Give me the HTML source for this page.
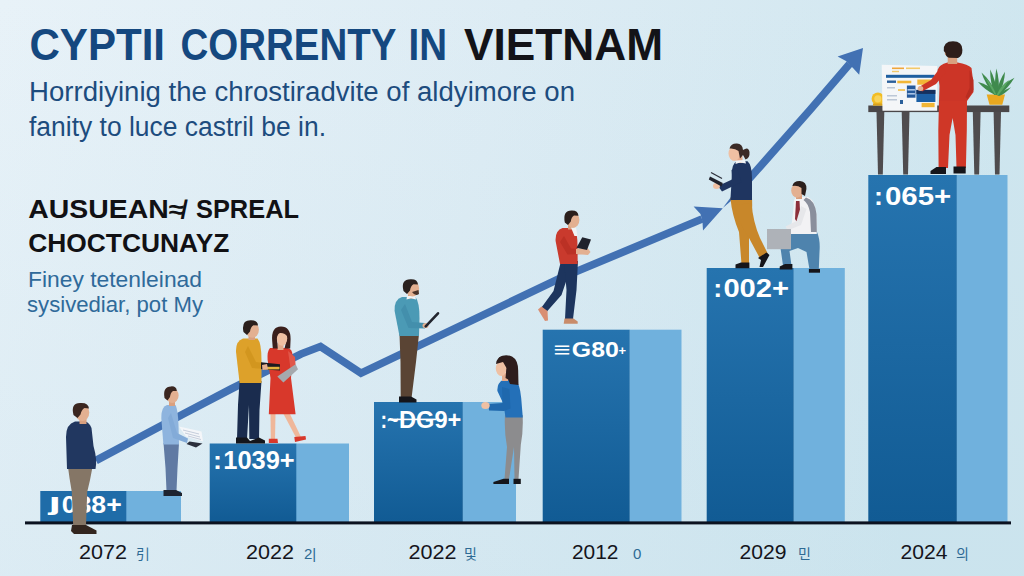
<!DOCTYPE html>
<html lang="en">
<head>
<meta charset="utf-8">
<title>Cryptocurrency in Vietnam</title>
<style>
html,body{margin:0;padding:0;background:#dfecf4;}
body{width:1024px;height:576px;overflow:hidden;font-family:"Liberation Sans","Noto Sans CJK KR",sans-serif;}
svg{display:block;}
text{font-family:"Liberation Sans","Noto Sans CJK KR",sans-serif;}
.b{font-weight:700;}
</style>
</head>
<body>
<svg width="1024" height="576" viewBox="0 0 1024 576">
<defs>
<linearGradient id="bg" x1="0" y1="0" x2="1" y2="0.15">
<stop offset="0" stop-color="#e8f2f8"/><stop offset="0.5" stop-color="#ddecf4"/><stop offset="1" stop-color="#cfe6ef"/>
</linearGradient>
<linearGradient id="dk" x1="0" y1="0" x2="0" y2="1">
<stop offset="0" stop-color="#2674af"/><stop offset="1" stop-color="#115b94"/>
</linearGradient>
<linearGradient id="dk2" x1="0" y1="0" x2="1" y2="0">
<stop offset="0" stop-color="#0a3f78" stop-opacity="0.35"/><stop offset="1" stop-color="#0a3f78" stop-opacity="0"/>
</linearGradient>
<linearGradient id="bgv" x1="0" y1="0" x2="0" y2="1"><stop offset="0" stop-color="#bcdbe8" stop-opacity="0"/><stop offset="1" stop-color="#bcdbe8" stop-opacity="0.22"/></linearGradient>
</defs>
<rect width="1024" height="576" fill="url(#bg)"/>
<rect width="1024" height="576" fill="url(#bgv)"/>

<!-- BARS -->
<g id="bars">
<rect x="126" y="491" width="55" height="31" fill="#70b1dd"/>
<rect x="40.3" y="491" width="86" height="31" fill="#1f6ca8"/>
<rect x="296" y="443.5" width="53" height="78.5" fill="#70b1dd"/>
<rect x="209.7" y="443.5" width="86.6" height="78.5" fill="url(#dk)"/>
<rect x="462.5" y="402" width="53.5" height="120" fill="#70b1dd"/>
<rect x="374" y="402" width="88.8" height="120" fill="url(#dk)"/>
<rect x="629.5" y="329.7" width="52" height="192.3" fill="#70b1dd"/>
<rect x="542.7" y="329.7" width="87" height="192.3" fill="url(#dk)"/>
<rect x="793.5" y="268" width="51.3" height="254" fill="#70b1dd"/>
<rect x="706.7" y="268" width="87" height="254" fill="url(#dk)"/>
<rect x="956.5" y="175" width="51" height="347" fill="#70b1dd"/>
<rect x="868.3" y="175" width="88.5" height="347" fill="url(#dk)"/>
</g>
<rect x="25" y="521.4" width="986" height="3" fill="#0b1220"/>

<!-- TREND LINE -->
<g id="trend" fill="none" stroke="#4271b3" stroke-width="7.7" stroke-linejoin="miter">
<polyline points="96,460.5 184,413.6 231,389 301,354 320.5,346.5 361,373.2 559,278.8 702,219"/>
<polyline points="741,188 757,170 810,110 849.5,64"/>
</g>
<polygon points="722.8,208 741,183.5 746,188 " fill="#4271b3"/>
<polygon points="722.8,208.2 693.6,206.4 700.5,214 702.5,222 703,230.4" fill="#4271b3"/>
<polygon points="863,48 837.6,56.4 846,61 853,68 859.2,74.7" fill="#4271b3"/>

<!-- TEXT -->
<g id="copy">
<g class="b" font-size="44">
<text x="29.5" y="59.8" fill="#15487f" textLength="135.5" lengthAdjust="spacingAndGlyphs">CYPTII</text>
<text x="180.5" y="59.8" fill="#15487f" textLength="216" lengthAdjust="spacingAndGlyphs">CORRENTY</text>
<text x="408.5" y="59.8" fill="#15487f" textLength="38.5" lengthAdjust="spacingAndGlyphs">IN</text>
<text x="464" y="59.8" fill="#131318" textLength="199" lengthAdjust="spacingAndGlyphs">VIETNAM</text>
</g>
<text x="29" y="100.7" font-size="26.8" fill="#1d4c7e" textLength="546" lengthAdjust="spacingAndGlyphs">Horrdiyinig the chrostiradvite of aldyimore on</text>
<text x="29" y="136.2" font-size="26.8" fill="#1d4c7e" textLength="297" lengthAdjust="spacingAndGlyphs">fanity to luce castril be in.</text>
<text x="28.3" y="218.2" font-size="25" class="b" fill="#111114" textLength="156" lengthAdjust="spacingAndGlyphs">AUSUEAN≉</text>
<text x="196" y="218.2" font-size="25" class="b" fill="#111114" textLength="103" lengthAdjust="spacingAndGlyphs">SPREAL</text>
<text x="28.3" y="251.7" font-size="25" class="b" fill="#111114" textLength="201" lengthAdjust="spacingAndGlyphs">CHOCTCUNAYZ</text>
<text x="28" y="287.3" font-size="21.5" fill="#2f6a9a" textLength="174" lengthAdjust="spacingAndGlyphs">Finey tetenleinad</text>
<text x="27" y="312" font-size="21.5" fill="#2f6a9a" textLength="176" lengthAdjust="spacingAndGlyphs">sysivediar, pot My</text>
</g>

<!-- BAR LABELS -->
<g id="labels" class="b" fill="#ffffff">
<text x="48.5" y="509.5" font-size="23" textLength="12.5" lengthAdjust="spacingAndGlyphs">ȷ</text>
<text x="61.7" y="513.4" font-size="24.5" textLength="60" lengthAdjust="spacingAndGlyphs">088+</text>
<text x="213" y="469.4" font-size="25.5" textLength="9" lengthAdjust="spacingAndGlyphs">:</text>
<text x="223.3" y="469.4" font-size="25.5" textLength="71.4" lengthAdjust="spacingAndGlyphs">1039+</text>
<text x="380.5" y="428.2" font-size="23.5" textLength="18" lengthAdjust="spacingAndGlyphs">:~</text>
<text x="399" y="428.2" font-size="23.5" textLength="62.3" lengthAdjust="spacingAndGlyphs">DG9+</text>
<rect x="392" y="418.6" width="44" height="1.6" fill="#ffffff"/>
<text x="553.5" y="357.2" font-size="21.5" textLength="17" lengthAdjust="spacingAndGlyphs">≡</text>
<text x="571.8" y="357.2" font-size="21.5" textLength="47" lengthAdjust="spacingAndGlyphs">G80</text>
<text x="618.5" y="354.5" font-size="13">+</text>
<text x="713.3" y="297.2" font-size="25" textLength="9" lengthAdjust="spacingAndGlyphs">:</text>
<text x="723.4" y="297.2" font-size="25" textLength="65.6" lengthAdjust="spacingAndGlyphs">002+</text>
<text x="874" y="205.2" font-size="25.5" textLength="9" lengthAdjust="spacingAndGlyphs">:</text>
<text x="885" y="205.2" font-size="25.5" textLength="66.3" lengthAdjust="spacingAndGlyphs">065+</text>
</g>

<!-- YEARS -->
<g id="years" fill="#15151c" font-size="20.5">
<text x="79" y="559.3" textLength="48" lengthAdjust="spacingAndGlyphs">2072</text>
<text x="246" y="559.3" textLength="48" lengthAdjust="spacingAndGlyphs">2022</text>
<text x="408.5" y="559.3" textLength="48" lengthAdjust="spacingAndGlyphs">2022</text>
<text x="572" y="559.3" textLength="46.5" lengthAdjust="spacingAndGlyphs">2012</text>
<text x="739.5" y="559.3" textLength="47" lengthAdjust="spacingAndGlyphs">2029</text>
<text x="900.5" y="559.3" textLength="47" lengthAdjust="spacingAndGlyphs">2024</text>
<g fill="#2d6a94" font-size="14">
<text x="136" y="559">引</text>
<text x="304" y="559" font-size="15">2|</text>
<text x="464" y="559">및</text>
<text x="633" y="559" font-size="15">0</text>
<text x="798" y="559">민</text>
<text x="956" y="559">의</text>
</g>
</g>

<!-- PEOPLE -->
<g id="p1">
<path d="M68,467 L92.5,467 L90,480 L87.2,492 L86,526 L73.2,526 L71.8,492 L69.5,478 Z" fill="#857666"/>
<path d="M72,525 L86,525 L96.5,530.5 L96.5,534 L74,534 L71,531 Z" fill="#33261f"/>
<path d="M75,421.5 Q66,424 66,437 L67,469 L95.5,469 Q97.5,460 93.5,446 L91.5,428 Q89,422 85,421.5 Z" fill="#213760"/>
<rect x="79.5" y="416" width="7" height="8" fill="#d9a07f"/>
<ellipse cx="82.3" cy="412.5" rx="7" ry="8.6" fill="#e3b091"/>
<path d="M73.5,415 Q70.5,403 80,403 Q88.5,402.3 89,408.5 L84.5,408 Q81.5,409.5 80.5,414.5 L77.5,418 Z" fill="#3a2620"/>
</g>

<g id="p2">
<path d="M163.5,443 L179,443 L177.5,468 L176.5,491 L166.5,491 L165.5,468 Z" fill="#607aa3"/>
<path d="M163.5,490 L176,490 L182,493 L182,496 L163.5,496 Z" fill="#1e2430"/>
<path d="M167,405 Q161,407 161.3,418 L163.4,444.5 L179,444.5 L178.5,425 Q178,410 175.5,405 Z" fill="#8eb4de"/>
<path d="M171,413 L177,433 L188,438.5 L187,443 L173,438 L168,418 Z" fill="#83abd8"/>
<polygon points="179,426.5 201.5,431.5 203,441.5 186,436.5" fill="#f4f6f9"/>
<path d="M183,430 L199,434 M185,433 L200,437 M188,436 L201,439.5" stroke="#b9c3d3" stroke-width="0.8" fill="none"/>
<polygon points="189.5,441.5 202.5,443.5 196,447.6 186.5,444" fill="#2a2f3c"/>
<rect x="169" y="399" width="6" height="7" fill="#d9a07f"/>
<ellipse cx="172.3" cy="395.5" rx="6.3" ry="7.5" fill="#e3b091"/>
<path d="M164.5,398 Q162.5,386.4 171,386.4 Q176.5,386 176.8,391 L173,391 Q170.5,392.5 170,397 L167.5,400.5 Z" fill="#3a2620"/>
</g>

<g id="p3">
<path d="M239.6,381 L261.5,381 L259.5,410 L259,439 L249.3,439 L249,405 L247,439 L237,439 L238,405 Z" fill="#1a2c4e"/>
<path d="M236,437.5 L247,437.5 L250,441 L259,437.5 L265,440.5 L265,443.4 L236,443.4 Z" fill="#14161c"/>
<path d="M243,338.5 Q235.5,341 236,352 L239.6,383 L261.5,383 L261.5,360 Q261.5,343 257.5,338.5 Z" fill="#dda12a"/>
<path d="M248,346 L256,362 L267,363.5 L267,369 L252,368 L245,352 Z" fill="#d2961f"/>
<rect x="248.5" y="333" width="6.5" height="7" fill="#d9a07f"/>
<ellipse cx="252.3" cy="329.8" rx="6.6" ry="8" fill="#e3b091"/>
<path d="M243.5,332 Q241,320.3 250.5,320.3 Q257.5,320 258,325.5 L253.5,325.3 Q250.5,327 250,331.5 L247,335 Z" fill="#2b1f1c"/>
</g>

<g id="p4">
<path d="M270.5,413 L275.5,413 L275,440 L270.8,440 Z" fill="#efb79a"/>
<path d="M283,413 L289.5,413 L301,437 L296.5,438.5 Z" fill="#efb79a"/>
<path d="M268.8,438.8 L277.5,438.8 L278,443 L268.8,443 Z" fill="#d8382b"/>
<path d="M294.3,437 L305.5,436 L306,439.5 L295,442 Z" fill="#d8382b"/>
<path d="M270,348 Q267,351 267.6,360 L270.5,378 L268.8,414.2 L295.6,414.2 L291,378 L292.5,356 Q292.5,349 288,348 Z" fill="#d8382b"/>
<path d="M288,351 L295,357 L296,371 L291,372 Z" fill="#e0574a"/>
<polygon points="277.3,376.5 295.6,364.3 298,369.2 283.4,382.6" fill="#a5a9ad"/>
<rect x="277.5" y="343" width="6" height="7" fill="#e3ab8e"/>
<path d="M272.2,341 Q271,326.5 281,326.5 Q290.6,326.5 290.6,339 L290.2,348.5 L284.5,348.5 L287,338 L277,338 L277.8,348.5 L272.8,348.5 Z" fill="#3a1f1c"/>
<ellipse cx="282" cy="338.5" rx="5.2" ry="7.3" fill="#efc0a3"/>
<path d="M275.5,336 Q277,328.5 284,329.5 Q288.5,330.5 288,337 Q284.5,332.5 280,333 Q277,334 276.5,340 Z" fill="#3a1f1c"/>
</g>

<g id="book"><polygon points="261,362.2 280,364.2 280,370.6 261,369.2" fill="#1b1b20"/>
<rect x="265" y="366.8" width="14.5" height="2.6" fill="#e5b53c"/>
<path d="M262,365 L267,364 L268,369.5 L262.5,370 Z" fill="#e3b091"/></g>

<g id="p5">
<path d="M399.5,334 L419,334 L416,362 L411.6,397.5 L400.7,397.5 L400.5,362 Z" fill="#5a4434"/>
<path d="M399,396.5 L411,396.5 L416.5,399.5 L416.5,402.6 L399,402.6 Z" fill="#15151a"/>
<path d="M402,297 Q394,299.5 394.6,311 L399.5,336 L419,336 L419.5,318 Q419.5,302 415.5,297 Z" fill="#4b9ab5"/>
<path d="M405,304 L412,322 L425,323 L425,328.5 L408.5,328 L401,310 Z" fill="#438fac"/>
<ellipse cx="425.5" cy="325.5" rx="3" ry="2.6" fill="#e3b091"/>
<line x1="425.7" y1="326.4" x2="438" y2="313.3" stroke="#22252e" stroke-width="2.6" stroke-linecap="round"/>
<rect x="408" y="291" width="6.5" height="7.5" fill="#d9a07f"/>
<path d="M407,296 L415.5,296 L416,299.5 L411,298.3 L406.5,299.5 Z" fill="#f1f3f5"/>
<ellipse cx="412.5" cy="288.5" rx="6.6" ry="8" fill="#e3b091"/>
<path d="M412,292 Q415,296.5 419,294 L418.5,290 Z" fill="#4a3329"/>
<path d="M403.5,291 Q400.5,279.2 410.5,279.2 Q417.5,278.8 418,284.5 L413.5,284.3 Q410.5,286 410,290.5 L407,294 Z" fill="#2b2220"/>
</g>

<g id="p6">
<path d="M505,415 L522.6,415 Q523.5,430 520.8,445 L518.5,479 L514.5,479 L514,447 L509,479 L504.5,479 L507,447 Q504,430 505,415 Z" fill="#8c8c8e"/>
<path d="M493.4,482 L503.5,478.8 L509,478.8 L509,484 L493.4,484 Z" fill="#15151a"/>
<path d="M513.5,478.8 L520.8,478.8 L520.8,484 L513.5,484 Z" fill="#15151a"/>
<path d="M503.5,379.5 Q496.8,383 497.4,391 L503.5,404 L505.5,417.5 L522.8,417.5 L521.2,398 Q519.8,383 515,379.5 Z" fill="#2470b8"/>
<path d="M502,387 L509.5,389 L510.5,408.5 L504,411 L489,410.5 L488.5,404 L502.5,403 Z" fill="#1f68ad"/>
<ellipse cx="485.5" cy="405.5" rx="4.2" ry="3.6" fill="#efc0a3"/>
<path d="M499,357.5 Q505,353.5 512,356.5 Q518.5,360 518.2,372 L518.5,385 L510,384 L507,376 L505,364 L499.5,362 Z" fill="#2e1d1c"/>
<rect x="502" y="373" width="6" height="8" fill="#e3ab8e"/>
<ellipse cx="501.3" cy="368.5" rx="5.5" ry="7.5" fill="#efc0a3"/>
<path d="M496,364 Q497,355.5 505,356 Q511,357 511,366 L509,380 L505.5,378 L506.5,368 L503,362 Z" fill="#2e1d1c"/>
</g>

<g id="p7">
<path d="M561,261 L572,264 L561.5,295 L546.5,312 L541.5,307.5 L553.5,291 Z" fill="#1d355e"/>
<path d="M564,261 L578,261 L576.5,290 L573,319 L565,319 L566.5,290 Z" fill="#1d355e"/>
<path d="M541.5,306.5 L547.5,311 L548,320.5 L545,321 L538,309.5 Z" fill="#d98f73"/>
<path d="M564.5,318.6 L573.5,318.6 L577.7,321.5 L577.7,323.7 L563.7,323.7 Z" fill="#c98c6a"/>
<path d="M562.5,228 Q555,230.5 555.6,241 L560,264 L577.7,264 L577.5,246 Q577.5,232 574,228 Z" fill="#c93a2d"/>
<path d="M564,236 L571,248.5 L583,249 L583,254 L567.5,254.5 L560,242 Z" fill="#bb3125"/>
<path d="M576,249 L588,248.5 L590.5,252 L588,255 L576,254 Z" fill="#e3b091"/>
<polygon points="576.5,247.7 582.3,237.2 591,239.5 587,250" fill="#20222c"/>
<rect x="568" y="222.5" width="6.5" height="7" fill="#d9a07f"/>
<path d="M571,227.5 L576,227.5 L577.5,236 L574.5,236 Z" fill="#f1f3f5"/>
<ellipse cx="573" cy="220" rx="6.4" ry="7.8" fill="#e3b091"/>
<path d="M564.8,222.5 Q562.5,210.5 571.5,210.5 Q578,210.2 578.5,215.8 L574,215.5 Q571.3,217 570.8,221.5 L568,225 Z" fill="#2b1f1c"/>
</g>

<g id="p8">
<path d="M730.4,198 L752,198 Q753,215 749,235 L749,264 L741.5,264 L739,232 Q732,215 730.4,198 Z" fill="#c8872a"/>
<path d="M735,205 L751.5,203 Q753,222 760,238 L768,254 L760,258.5 L749,238 Q738,222 735,205 Z" fill="#c8872a"/>
<path d="M735.5,264.5 L741,262.5 L749.4,262.5 L749.4,268.3 L735.5,268.3 Z" fill="#15151a"/>
<path d="M758,258 L766.5,252.5 L769.5,255 L763,267 L759.5,267 L761,260 Z" fill="#15151a"/>
<path d="M737,161.2 Q731.5,164 732,174 L730.4,200 L752,200 L752,178 Q752,165 747.5,161.2 Z" fill="#1f3560"/>
<path d="M737,168 L741.5,182 L722,191.5 L718,186 L732,179.5 L731.5,170 Z" fill="#1f3560"/>
<ellipse cx="716.5" cy="186" rx="3.5" ry="3" fill="#efc0a3"/>
<polygon points="710,176.5 722.8,183 721.5,186.5 708.8,179.5" fill="#20222c"/>
<line x1="711" y1="172.5" x2="722" y2="178.5" stroke="#30333e" stroke-width="1.4"/>
<rect x="736.5" y="156" width="6" height="7" fill="#e3ab8e"/>
<path d="M736,160.5 L745,160 L746,163.5 L740,162.6 L735.5,164 Z" fill="#f1f3f5"/>
<ellipse cx="734.3" cy="153.5" rx="5.8" ry="7.4" fill="#efc0a3"/>
<path d="M729.5,148.5 Q731,143.3 737,143.6 Q742.5,144 743,150 Q748.5,146 749.5,152 Q750,158 745.5,159.5 L743,155 L740,158.5 L738.5,151 Q735,148 729.5,148.5 Z" fill="#3b2a26"/>
</g>

<g id="p9">
<path d="M790,232 L817,232 Q820.5,240 819.5,252 L818.8,269.5 L809.5,269.5 L806.5,252 L798,248 L789.5,251 L791.5,265.5 L783,265.5 L780.5,248 Q780,242 786,239 Z" fill="#4e83ad"/>
<path d="M779.7,266.5 L785,264 L792.4,264 L792.4,269.4 L779.7,269.4 Z" fill="#15151a"/>
<path d="M808.9,269 L820,269 L820,272.7 L808.9,272.7 Z" fill="#15151a"/>
<path d="M796.5,197 Q793,199 793.7,206 L790.5,234 L816.8,234 L816.5,214 Q815.5,201 808,197 Z" fill="#f2f2f4"/>
<path d="M806,197.5 Q815,200 816.5,214 L816.8,232 L811,232 L810,212 Q808,203 803.5,200 Z" fill="#8a8f9c"/>
<path d="M796,201 L799.5,201 L800.5,219 L797.5,223 L795,219 Z" fill="#8c2f3a"/>
<path d="M801,206 L806.5,209 L801,225 L787.5,230.5 L785.5,226.5 L796.5,221 Z" fill="#e6e7ea"/>
<rect x="767" y="229" width="24" height="20.2" fill="#aeb2b8"/>
<rect x="796" y="192" width="6" height="7" fill="#d9a07f"/>
<ellipse cx="797" cy="190.5" rx="5.8" ry="7.2" fill="#e3b091"/>
<path d="M792.4,186 Q793.5,180.8 800,181 Q806.8,181.5 806.4,189 L805,196 L801.5,194 L801.5,188 Q797.5,185 792.4,186 Z" fill="#2b1f1c"/>
</g>

<g id="desk">
<rect x="868.3" y="105.5" width="141" height="6.6" fill="#4a4749"/>
<path d="M876.5,112 L884.3,112 L882.8,174.5 L878,174.5 Z" fill="#4f4c4e"/>
<path d="M901.7,112 L909.5,112 L908,174.5 L903.2,174.5 Z" fill="#4f4c4e"/>
<path d="M972.8,112 L980.6,112 L979.1,174.5 L974.3,174.5 Z" fill="#4f4c4e"/>
<path d="M993.6,112 L1001,112 L999.5,174.5 L995,174.5 Z" fill="#4f4c4e"/>
<circle cx="877.9" cy="98.8" r="6.3" fill="#f2bd24"/>
<circle cx="877.9" cy="98.8" r="3.6" fill="#f8d45a"/>
<rect x="873" y="103.5" width="10" height="2.2" fill="#d9a21c"/>
<polygon points="881.7,64.7 937.2,66 937.2,110.7 882.5,110.7" fill="#f4f6f8"/>
<rect x="892" y="67.5" width="12" height="1.6" fill="#f0a63a"/>
<rect x="906" y="67.5" width="14" height="1.6" fill="#f3c969"/>
<rect x="892" y="70.8" width="7" height="1.4" fill="#f3c969"/>
<rect x="886" y="74.8" width="48.6" height="3" fill="#1f5fa0"/>
<rect x="887" y="80.5" width="9" height="2.4" fill="#2a5f9a"/>
<rect x="897.3" y="80.7" width="14" height="2.6" fill="#f2b636"/>
<rect x="917.3" y="79.5" width="14.7" height="5.2" fill="#f2b636"/>
<rect x="887" y="87" width="8" height="1.5" fill="#bcc7d6"/>
<rect x="898" y="89" width="7" height="2" fill="#f3c969"/>
<rect x="887" y="95" width="10" height="1.5" fill="#bcc7d6"/>
<rect x="887" y="99" width="10" height="1.5" fill="#bcc7d6"/>
<rect x="906.9" y="85.5" width="8.6" height="12.2" fill="#24599b"/>
<rect x="907.5" y="89" width="7.4" height="1.6" fill="#a9c4e6"/>
<rect x="907.5" y="93" width="7.4" height="1.6" fill="#a9c4e6"/>
<rect x="916.4" y="89.9" width="19" height="12.1" fill="#1c5fa5"/>
<rect x="916.4" y="89.9" width="19" height="4" fill="#16305e"/>
<rect x="921.6" y="102.9" width="13" height="4.3" fill="#f2b636"/>
<rect x="900" y="100" width="3" height="4" fill="#2a5f9a"/>
<path d="M986.7,94.6 L1005,94.6 L1002.3,104.8 L989.5,104.8 Z" fill="#e9a820"/>
<g fill="#3f8a4d">
<path d="M995,95 Q985,90 978,82 Q988,84 996.5,93 Z"/>
<path d="M994.5,95 Q985,84 981.5,72.5 Q990,80 996.5,93 Z"/>
<path d="M994.5,95 Q990,82 990.2,69.6 Q995.5,80 997.5,94 Z"/>
<path d="M995,95 Q994.5,80 996.3,68.5 Q1000,80 998.5,95 Z"/>
<path d="M996,95 Q999,80 1005,71.7 Q1004.5,83 999,95 Z"/>
<path d="M996.5,95 Q1003,83 1014.5,77.7 Q1008,88 999.5,95 Z"/>
<path d="M996.5,95 Q1004,90 1011,87.3 Q1005,94 999,96 Z"/>
</g>
<g fill="#5aa764">
<path d="M995,95 Q989,85 985.5,78 Q992,84 996,94 Z"/>
<path d="M996.5,95 Q1001,85 1009,80 Q1004.5,88 998.5,95 Z"/>
</g>
</g>

<g id="p10">
<path d="M939,100 L967,100 L966.8,130 L965.9,168 L956.5,168 L955.5,135 L952.6,118 L949.5,135 L948,168 L938.6,168 L938.3,130 Z" fill="#cf3727"/>
<path d="M930.5,171 L936.5,167 L946,167 L946,174 L930.5,174 Z" fill="#15151a"/>
<path d="M953.5,166.5 L965.7,166.5 L965.7,173.5 L953.5,173.5 Z" fill="#15151a"/>
<path d="M947.5,62.5 L957.5,62.5 Q968,64 971.5,68 Q973.5,80 973.5,92 L967,101 L939,101 L939.5,86 L937.5,70 Q939,64.5 947.5,62.5 Z" fill="#cc3527"/>
<path d="M941,66.5 L946,72 L936,84 L922,91.5 L919,87 L931,80 Z" fill="#cc3527"/>
<path d="M969.5,70 L973.5,80 L973.5,90 L967.5,99 L965.5,97 L969.5,88 Z" fill="#b92d21"/>
<ellipse cx="920.5" cy="88.5" rx="2.8" ry="2.5" fill="#e3b091"/>
<rect x="947.7" y="55" width="9.5" height="9" fill="#d9a07f"/>
<ellipse cx="946.5" cy="53" rx="1.8" ry="2.6" fill="#d9a07f"/>
<path d="M943.8,51 Q943,41.3 953,41.3 Q962.4,41.3 962.4,50 Q962.4,56 958,58 L949,57.8 Q945.5,56.5 945.5,53 Z" fill="#2d1d19"/>
</g>
</svg>
</body>
</html>
